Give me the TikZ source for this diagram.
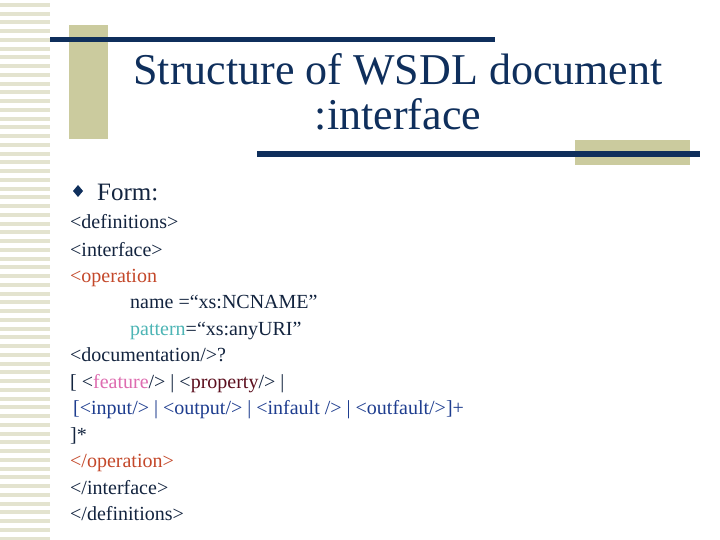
\documentclass[tikz,border=0pt]{standalone}
\usepackage{fontspec}
\setmainfont{Liberation Serif}
\definecolor{navy}{HTML}{0F2F5C}
\definecolor{khaki}{HTML}{CBCB9E}
\definecolor{stripe}{HTML}{E3E3CF}
\definecolor{txt}{HTML}{13243F}
\definecolor{op}{HTML}{C4482A}
\definecolor{teal}{HTML}{4DB5B5}
\definecolor{pink}{HTML}{DE6CB0}
\definecolor{maroon}{HTML}{5C0F1E}
\definecolor{blu}{HTML}{1E3D8F}
\begin{document}
\begin{tikzpicture}[x=1pt,y=-1pt,
  body/.style={anchor=base west,inner sep=0pt,font=\fontsize{20}{22}\selectfont,text=txt},
  ttl/.style={anchor=base,inner sep=0pt,font=\fontsize{44}{46}\selectfont,text=navy}]
\useasboundingbox (0,0) rectangle (720,540);
\fill[white] (0,0) rectangle (720,540);
\foreach \y in {3,12,20,29,38,47,55,64,73,82,90,99,108,117,125,134,143,152,160,169,178,187,195,204,213,222,230,239,248,257,265,274,283,292,300,309,318,327,335,344,353,362,370,379,388,397,405,414,423,432,440,449,458,467,475,484,493,502,510,519,528,537}
  \fill[stripe] (0,\y) rectangle (50,\y+4);
\fill[khaki] (69,25) rectangle (108,139);
\fill[navy] (50,37) rectangle (495,42);
\fill[khaki] (575,140) rectangle (690,165);
\fill[navy] (257,151) rectangle (700,157);
\node[ttl] (t1) at (398,85) {Structure of WSDL document};
\node[ttl] (t2) at (398,130) {:interface};
\fill[navy] (78,185) -- (83,191) -- (78,197) -- (73,191) -- cycle;
\node[body,font=\fontsize{25}{27}\selectfont] (form) at (97,201) {Form:};
\node[body] (l1) at (70,229) {<definitions>};
\node[body] (l2) at (70,256) {<interface>};
\node[body,text=op] (l3) at (70,282) {<operation};
\node[body] (l4) at (130,308) {name =“xs:NCNAME”};
\node[body] (l5) at (130,335) {\textcolor{teal}{pattern}=“xs:anyURI”};
\node[body] (l6) at (70,361) {<documentation/>?};
\node[body] (l7) at (70,388) {[ <\textcolor{pink}{feature}/> | <\textcolor{maroon}{property}/> |};
\node[body,text=blu] (l8) at (73,414) {[<input/> | <output/> | <infault /> | <outfault/>]+};
\node[body] (l9) at (70,441) {]*};
\node[body,text=op] (l10) at (70,467) {</operation>};
\node[body] (l11) at (70,494) {</interface>};
\node[body] (l12) at (70,520) {</definitions>};
\end{tikzpicture}
\end{document}
